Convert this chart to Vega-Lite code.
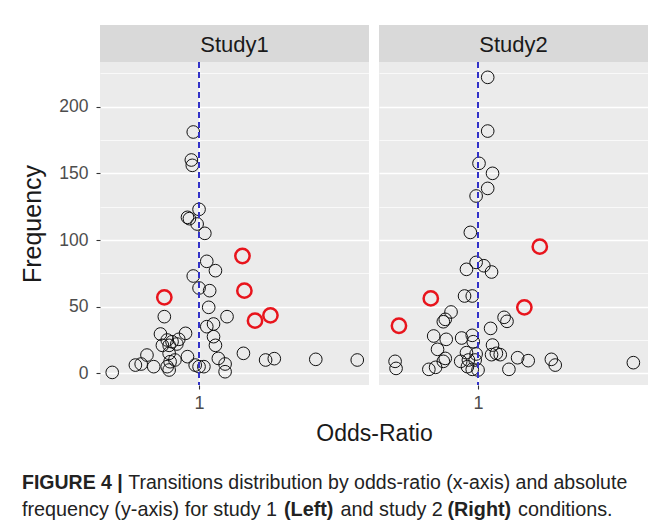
{
  "$schema": "https://vega.github.io/schema/vega-lite/v6.json",
  "background": "white",
  "padding": {"left": 20, "top": 25, "right": 0, "bottom": 0},
  "columns": 2,
  "spacing": {"row": 0, "column": 10},
  "bounds": "flush",
  "config": {"view": {"stroke": null}, "font": "Liberation Sans"},
  "datasets": {
    "pts": [
      {"study": "Study1", "odds": 0.94, "freq": 181, "sig": "no"},
      {"study": "Study1", "odds": 0.92, "freq": 160, "sig": "no"},
      {"study": "Study1", "odds": 0.93, "freq": 156, "sig": "no"},
      {"study": "Study1", "odds": 1.00, "freq": 123, "sig": "no"},
      {"study": "Study1", "odds": 0.88, "freq": 117, "sig": "no"},
      {"study": "Study1", "odds": 0.90, "freq": 116, "sig": "no"},
      {"study": "Study1", "odds": 0.98, "freq": 112, "sig": "no"},
      {"study": "Study1", "odds": 1.06, "freq": 105, "sig": "no"},
      {"study": "Study1", "odds": 1.45, "freq": 88, "sig": "yes"},
      {"study": "Study1", "odds": 1.08, "freq": 84, "sig": "no"},
      {"study": "Study1", "odds": 1.17, "freq": 77, "sig": "no"},
      {"study": "Study1", "odds": 0.94, "freq": 73, "sig": "no"},
      {"study": "Study1", "odds": 1.47, "freq": 62, "sig": "yes"},
      {"study": "Study1", "odds": 0.64, "freq": 57, "sig": "yes"},
      {"study": "Study1", "odds": 1.00, "freq": 64, "sig": "no"},
      {"study": "Study1", "odds": 1.11, "freq": 62, "sig": "no"},
      {"study": "Study1", "odds": 1.10, "freq": 49.5, "sig": "no"},
      {"study": "Study1", "odds": 0.64, "freq": 42.5, "sig": "no"},
      {"study": "Study1", "odds": 1.29, "freq": 42.5, "sig": "no"},
      {"study": "Study1", "odds": 1.74, "freq": 43.5, "sig": "yes"},
      {"study": "Study1", "odds": 1.58, "freq": 39.5, "sig": "yes"},
      {"study": "Study1", "odds": 1.08, "freq": 35, "sig": "no"},
      {"study": "Study1", "odds": 1.15, "freq": 37, "sig": "no"},
      {"study": "Study1", "odds": 0.60, "freq": 29.5, "sig": "no"},
      {"study": "Study1", "odds": 0.86, "freq": 30, "sig": "no"},
      {"study": "Study1", "odds": 1.15, "freq": 27.5, "sig": "no"},
      {"study": "Study1", "odds": 0.67, "freq": 25, "sig": "no"},
      {"study": "Study1", "odds": 0.72, "freq": 23.7, "sig": "no"},
      {"study": "Study1", "odds": 0.79, "freq": 25.5, "sig": "no"},
      {"study": "Study1", "odds": 0.62, "freq": 21, "sig": "no"},
      {"study": "Study1", "odds": 0.69, "freq": 21, "sig": "no"},
      {"study": "Study1", "odds": 0.77, "freq": 22, "sig": "no"},
      {"study": "Study1", "odds": 1.17, "freq": 21, "sig": "no"},
      {"study": "Study1", "odds": 0.46, "freq": 13.7, "sig": "no"},
      {"study": "Study1", "odds": 1.46, "freq": 15, "sig": "no"},
      {"study": "Study1", "odds": 0.69, "freq": 15, "sig": "no"},
      {"study": "Study1", "odds": 0.88, "freq": 12.5, "sig": "no"},
      {"study": "Study1", "odds": 1.20, "freq": 11.2, "sig": "no"},
      {"study": "Study1", "odds": 1.69, "freq": 10, "sig": "no"},
      {"study": "Study1", "odds": 1.78, "freq": 11, "sig": "no"},
      {"study": "Study1", "odds": 2.21, "freq": 10.5, "sig": "no"},
      {"study": "Study1", "odds": 2.64, "freq": 10, "sig": "no"},
      {"study": "Study1", "odds": 0.34, "freq": 6.2, "sig": "no"},
      {"study": "Study1", "odds": 0.40, "freq": 7, "sig": "no"},
      {"study": "Study1", "odds": 0.53, "freq": 5, "sig": "no"},
      {"study": "Study1", "odds": 0.70, "freq": 8.7, "sig": "no"},
      {"study": "Study1", "odds": 0.69, "freq": 2.5, "sig": "no"},
      {"study": "Study1", "odds": 0.75, "freq": 10, "sig": "no"},
      {"study": "Study1", "odds": 0.96, "freq": 6.2, "sig": "no"},
      {"study": "Study1", "odds": 1.05, "freq": 5, "sig": "no"},
      {"study": "Study1", "odds": 1.00, "freq": 5, "sig": "no"},
      {"study": "Study1", "odds": 1.27, "freq": 7, "sig": "no"},
      {"study": "Study1", "odds": 1.27, "freq": 1.2, "sig": "no"},
      {"study": "Study1", "odds": 0.10, "freq": 0.7, "sig": "no"},
      {"study": "Study1", "odds": 0.67, "freq": 5, "sig": "no"},
      {"study": "Study2", "odds": 1.10, "freq": 222, "sig": "no"},
      {"study": "Study2", "odds": 1.10, "freq": 181.7, "sig": "no"},
      {"study": "Study2", "odds": 1.01, "freq": 157.5, "sig": "no"},
      {"study": "Study2", "odds": 1.15, "freq": 150, "sig": "no"},
      {"study": "Study2", "odds": 1.10, "freq": 138.7, "sig": "no"},
      {"study": "Study2", "odds": 0.98, "freq": 133, "sig": "no"},
      {"study": "Study2", "odds": 0.92, "freq": 105.7, "sig": "no"},
      {"study": "Study2", "odds": 1.64, "freq": 95, "sig": "yes"},
      {"study": "Study2", "odds": 0.98, "freq": 83.2, "sig": "no"},
      {"study": "Study2", "odds": 0.88, "freq": 78, "sig": "no"},
      {"study": "Study2", "odds": 1.06, "freq": 80.7, "sig": "no"},
      {"study": "Study2", "odds": 1.14, "freq": 76, "sig": "no"},
      {"study": "Study2", "odds": 0.51, "freq": 56.2, "sig": "yes"},
      {"study": "Study2", "odds": 0.86, "freq": 58, "sig": "no"},
      {"study": "Study2", "odds": 0.94, "freq": 58, "sig": "no"},
      {"study": "Study2", "odds": 1.48, "freq": 49.5, "sig": "yes"},
      {"study": "Study2", "odds": 0.18, "freq": 35.7, "sig": "yes"},
      {"study": "Study2", "odds": 0.72, "freq": 46, "sig": "no"},
      {"study": "Study2", "odds": 0.66, "freq": 40.5, "sig": "no"},
      {"study": "Study2", "odds": 0.64, "freq": 38.7, "sig": "no"},
      {"study": "Study2", "odds": 1.27, "freq": 42, "sig": "no"},
      {"study": "Study2", "odds": 1.30, "freq": 39, "sig": "no"},
      {"study": "Study2", "odds": 1.13, "freq": 33.7, "sig": "no"},
      {"study": "Study2", "odds": 0.54, "freq": 28, "sig": "no"},
      {"study": "Study2", "odds": 0.67, "freq": 25.5, "sig": "no"},
      {"study": "Study2", "odds": 0.83, "freq": 26.5, "sig": "no"},
      {"study": "Study2", "odds": 0.94, "freq": 28.5, "sig": "no"},
      {"study": "Study2", "odds": 0.95, "freq": 23.7, "sig": "no"},
      {"study": "Study2", "odds": 1.15, "freq": 21.2, "sig": "no"},
      {"study": "Study2", "odds": 0.58, "freq": 18, "sig": "no"},
      {"study": "Study2", "odds": 0.88, "freq": 15.5, "sig": "no"},
      {"study": "Study2", "odds": 0.98, "freq": 14.5, "sig": "no"},
      {"study": "Study2", "odds": 1.14, "freq": 14, "sig": "no"},
      {"study": "Study2", "odds": 1.23, "freq": 14, "sig": "no"},
      {"study": "Study2", "odds": 0.66, "freq": 11.2, "sig": "no"},
      {"study": "Study2", "odds": 0.64, "freq": 9, "sig": "no"},
      {"study": "Study2", "odds": 0.82, "freq": 9, "sig": "no"},
      {"study": "Study2", "odds": 0.90, "freq": 10, "sig": "no"},
      {"study": "Study2", "odds": 0.97, "freq": 10, "sig": "no"},
      {"study": "Study2", "odds": 1.41, "freq": 11.7, "sig": "no"},
      {"study": "Study2", "odds": 1.52, "freq": 9.5, "sig": "no"},
      {"study": "Study2", "odds": 1.76, "freq": 10.5, "sig": "no"},
      {"study": "Study2", "odds": 1.80, "freq": 6.2, "sig": "no"},
      {"study": "Study2", "odds": 2.61, "freq": 8, "sig": "no"},
      {"study": "Study2", "odds": 0.14, "freq": 9, "sig": "no"},
      {"study": "Study2", "odds": 0.15, "freq": 3.7, "sig": "no"},
      {"study": "Study2", "odds": 0.49, "freq": 3, "sig": "no"},
      {"study": "Study2", "odds": 0.56, "freq": 4.5, "sig": "no"},
      {"study": "Study2", "odds": 0.89, "freq": 5, "sig": "no"},
      {"study": "Study2", "odds": 0.94, "freq": 3, "sig": "no"},
      {"study": "Study2", "odds": 1.00, "freq": 2.5, "sig": "no"},
      {"study": "Study2", "odds": 1.32, "freq": 3, "sig": "no"},
      {"study": "Study2", "odds": 1.19, "freq": 15, "sig": "no"}
    ]
  },
  "concat": [
    {"width": 269, "height": 37, "view": {"fill": "#d9d9d9", "stroke": null},
     "data": {"values": [{"label": "Study1"}]},
     "mark": {"type": "text", "font": "Liberation Sans", "fontSize": 22, "color": "#1a1a1a", "baseline": "middle", "dy": 1},
     "encoding": {"text": {"field": "label"}}},
    {"width": 269, "height": 37, "view": {"fill": "#d9d9d9", "stroke": null},
     "data": {"values": [{"label": "Study2"}]},
     "mark": {"type": "text", "font": "Liberation Sans", "fontSize": 22, "color": "#1a1a1a", "baseline": "middle", "dy": 1},
     "encoding": {"text": {"field": "label"}}},
    {"width": 269, "height": 323, "view": {"fill": "#ebebeb", "stroke": null},
     "data": {"name": "pts"},
     "transform": [{"filter": "datum.study == 'Study1'"}],
     "resolve": {"axis": {"y": "independent"}},
     "layer": [
       {"mark": {"type": "point", "opacity": 0},
        "encoding": {
          "x": {"field": "odds", "type": "quantitative", "scale": {"domain": [-0.0268, 2.7618], "nice": false, "zero": false},
                "axis": {"values": [1], "format": ".0f", "grid": true, "gridColor": "#ffffff", "gridWidth": 1.4, "domain": false, "tickColor": "#333333", "tickSize": 4, "tickWidth": 1.1,
                         "labelFont": "Liberation Sans", "labelFontSize": 18, "labelColor": "#4d4d4d", "labelPadding": 5,
                         "title": "Odds-Ratio", "titleFont": "Liberation Sans", "titleFontSize": 23, "titleFontWeight": "normal", "titleColor": "#1a1a1a",
                         "titleX": 274, "titleY": 48, "titleAlign": "center", "titleBaseline": "middle"}},
          "y": {"field": "freq", "type": "quantitative", "scale": {"domain": [-8.75, 233.5], "nice": false, "zero": false},
                "axis": {"orient": "right", "values": [25, 75, 125, 175, 225], "grid": true, "gridColor": "#ffffff", "gridWidth": 0.7, "domain": false, "ticks": false, "labels": false, "title": null}}
        }},
       {"mark": {"type": "point", "shape": "circle", "filled": false, "opacity": 1},
        "encoding": {
          "x": {"field": "odds", "type": "quantitative"},
          "y": {"field": "freq", "type": "quantitative",
                "axis": {"orient": "left", "values": [0, 50, 100, 150, 200], "grid": true, "gridColor": "#ffffff", "gridWidth": 1.4, "domain": false,
                         "tickColor": "#333333", "tickSize": 4, "tickWidth": 1.1,
                         "labelFont": "Liberation Sans", "labelFontSize": 17.5, "labelColor": "#4d4d4d", "labelPadding": 8,
                         "title": "Frequency", "titleFont": "Liberation Sans", "titleFontSize": 25, "titleFontWeight": "normal", "titleColor": "#1a1a1a",
                         "titleX": -68, "titleY": 161.5, "titleAngle": 270, "titleAlign": "center", "titleBaseline": "middle"}},
          "color": {"field": "sig", "type": "nominal", "scale": {"domain": ["no", "yes"], "range": ["#111111", "#e8141c"]}, "legend": null},
          "size": {"field": "sig", "type": "ordinal", "scale": {"domain": ["no", "yes"], "range": [160, 205]}, "legend": null},
          "strokeWidth": {"field": "sig", "type": "ordinal", "scale": {"domain": ["no", "yes"], "range": [1, 2.5]}, "legend": null}
        }},
       {"mark": {"type": "rule", "color": "#3434c8", "strokeWidth": 1.2, "strokeDash": [6, 4]},
        "encoding": {"x": {"datum": 1, "type": "quantitative"}}}
     ]},
    {"width": 269, "height": 323, "view": {"fill": "#ebebeb", "stroke": null},
     "data": {"name": "pts"},
     "transform": [{"filter": "datum.study == 'Study2'"}],
     "resolve": {"axis": {"y": "independent"}},
     "layer": [
       {"mark": {"type": "point", "opacity": 0},
        "encoding": {
          "x": {"field": "odds", "type": "quantitative", "scale": {"domain": [-0.0268, 2.7618], "nice": false, "zero": false},
                "axis": {"values": [1], "format": ".0f", "grid": true, "gridColor": "#ffffff", "gridWidth": 1.4, "domain": false, "tickColor": "#333333", "tickSize": 4, "tickWidth": 1.1,
                         "labelFont": "Liberation Sans", "labelFontSize": 18, "labelColor": "#4d4d4d", "labelPadding": 5, "title": null}},
          "y": {"field": "freq", "type": "quantitative", "scale": {"domain": [-8.75, 233.5], "nice": false, "zero": false},
                "axis": {"orient": "right", "values": [25, 75, 125, 175, 225], "grid": true, "gridColor": "#ffffff", "gridWidth": 0.7, "domain": false, "ticks": false, "labels": false, "title": null}}
        }},
       {"mark": {"type": "point", "shape": "circle", "filled": false, "opacity": 1},
        "encoding": {
          "x": {"field": "odds", "type": "quantitative"},
          "y": {"field": "freq", "type": "quantitative",
                "axis": {"orient": "left", "values": [0, 50, 100, 150, 200], "grid": true, "gridColor": "#ffffff", "gridWidth": 1.4, "domain": false, "ticks": false, "labels": false, "title": null}},
          "color": {"field": "sig", "type": "nominal", "scale": {"domain": ["no", "yes"], "range": ["#111111", "#e8141c"]}, "legend": null},
          "size": {"field": "sig", "type": "ordinal", "scale": {"domain": ["no", "yes"], "range": [160, 205]}, "legend": null},
          "strokeWidth": {"field": "sig", "type": "ordinal", "scale": {"domain": ["no", "yes"], "range": [1, 2.5]}, "legend": null}
        }},
       {"mark": {"type": "rule", "color": "#3434c8", "strokeWidth": 1.2, "strokeDash": [6, 4]},
        "encoding": {"x": {"datum": 1, "type": "quantitative"}}}
     ]},
    {"width": 269, "height": 140,
     "data": {"values": [{}]},
     "layer": [
       {"mark": {"type": "text", "text": "FIGURE 4 |", "fontWeight": "bold", "fontSize": 19.5, "font": "Liberation Sans", "color": "#222222", "align": "left", "baseline": "middle"},
        "encoding": {"x": {"value": -78}, "y": {"value": 98}}},
       {"mark": {"type": "text", "text": "Transitions distribution by odds-ratio (x-axis) and absolute", "dx": 106.3, "fontSize": 19.5, "font": "Liberation Sans", "color": "#222222", "align": "left", "baseline": "middle"},
        "encoding": {"x": {"value": -78}, "y": {"value": 98}}},
       {"mark": {"type": "text", "text": "frequency (y-axis) for study 1", "fontSize": 19.8, "font": "Liberation Sans", "color": "#222222", "align": "left", "baseline": "middle"},
        "encoding": {"x": {"value": -78}, "y": {"value": 125}}},
       {"mark": {"type": "text", "text": "(Left)", "dx": 262, "fontWeight": "bold", "fontSize": 19.8, "font": "Liberation Sans", "color": "#222222", "align": "left", "baseline": "middle"},
        "encoding": {"x": {"value": -78}, "y": {"value": 125}}},
       {"mark": {"type": "text", "text": "and study 2", "dx": 318.5, "fontSize": 19.8, "font": "Liberation Sans", "color": "#222222", "align": "left", "baseline": "middle"},
        "encoding": {"x": {"value": -78}, "y": {"value": 125}}},
       {"mark": {"type": "text", "text": "(Right)", "dx": 425.5, "fontWeight": "bold", "fontSize": 19.8, "font": "Liberation Sans", "color": "#222222", "align": "left", "baseline": "middle"},
        "encoding": {"x": {"value": -78}, "y": {"value": 125}}},
       {"mark": {"type": "text", "text": "conditions.", "dx": 496.0, "fontSize": 19.8, "font": "Liberation Sans", "color": "#222222", "align": "left", "baseline": "middle"},
        "encoding": {"x": {"value": -78}, "y": {"value": 125}}}
     ]}
  ]
}
